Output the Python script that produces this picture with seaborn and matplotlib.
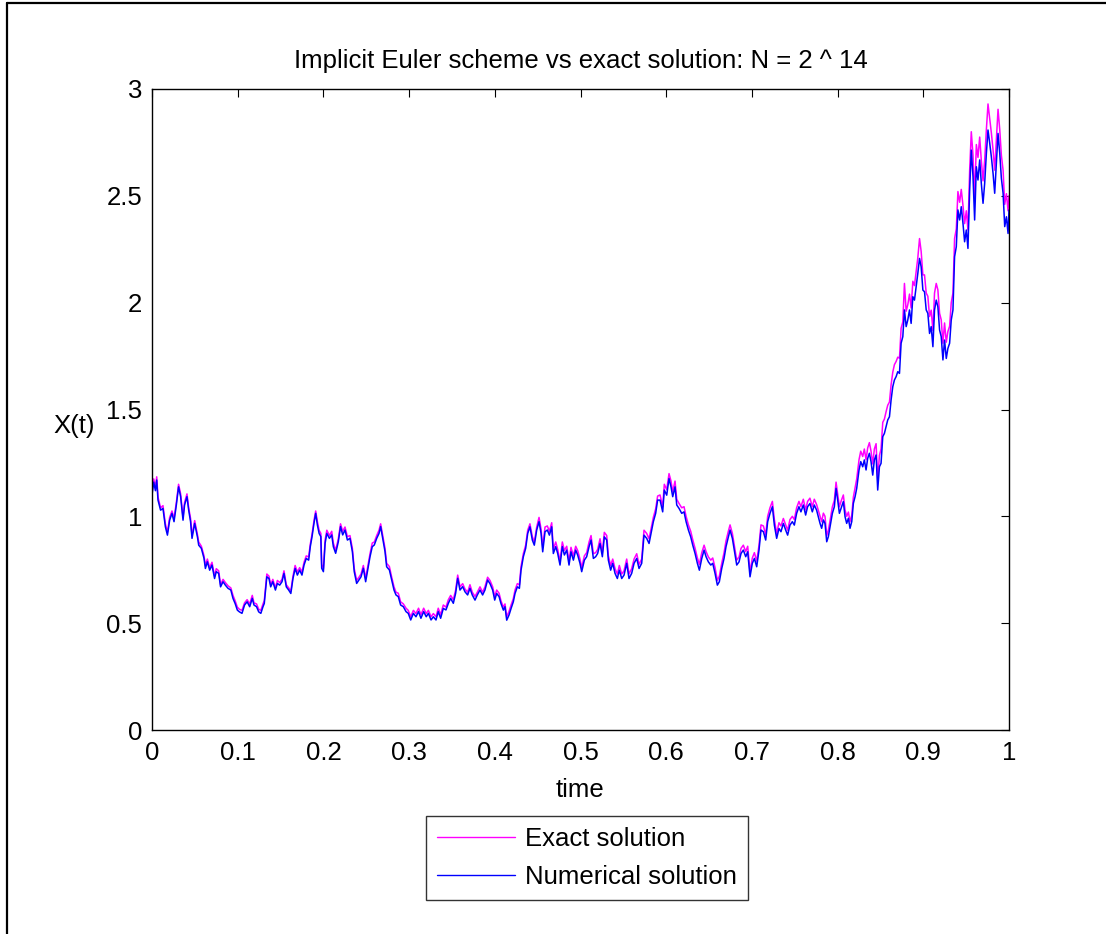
import numpy as np
import pandas as pd
import matplotlib
matplotlib.use("Agg")
import matplotlib.pyplot as plt
from matplotlib.lines import Line2D
from matplotlib.ticker import FuncFormatter
import seaborn as sns

# Sample times of the path
t = [
    0.000, 0.002, 0.004, 0.0055, 0.0070, 0.0100, 0.0128, 0.0156, 0.0180, 0.0206,
    0.0233, 0.0257, 0.0284, 0.0310, 0.0334, 0.0362, 0.0380, 0.0408, 0.0428, 0.0450,
    0.0467, 0.0498, 0.0530, 0.0545, 0.0576, 0.0607, 0.0623, 0.0646, 0.0673, 0.0700,
    0.0730, 0.0750, 0.0778, 0.0800, 0.0829, 0.0856, 0.0887, 0.0920, 0.0945, 0.0970,
    0.0996, 0.1020, 0.1050, 0.1080, 0.1110, 0.1140, 0.1170, 0.1190, 0.1220, 0.1245,
    0.1270, 0.1295, 0.1310, 0.1340, 0.1365, 0.1385, 0.1410, 0.1440, 0.1463, 0.1490,
    0.1517, 0.1540, 0.1567, 0.1595, 0.1620, 0.1645, 0.1670, 0.1696, 0.1723, 0.1750,
    0.1774, 0.1800, 0.1828, 0.1847, 0.1867, 0.1890, 0.1910, 0.1930, 0.1950,
    0.1970, 0.1980, 0.2000, 0.2020, 0.2040, 0.2070, 0.2097, 0.2116, 0.2143, 0.2174,
    0.2200, 0.2225, 0.2252, 0.2280, 0.2310, 0.2338, 0.2360, 0.2388, 0.2415, 0.2439,
    0.2466, 0.2493, 0.2517, 0.2544, 0.2570, 0.2594, 0.2622, 0.2649, 0.2668, 0.2692,
    0.2719, 0.2738, 0.2770, 0.2797, 0.2824, 0.2847, 0.2874, 0.2901, 0.2933, 0.2964,
    0.2990, 0.3019, 0.3050, 0.3080, 0.3110, 0.3138, 0.3170, 0.3200, 0.3225, 0.3256,
    0.3283, 0.3314, 0.3340, 0.3368, 0.3399, 0.3430, 0.3458, 0.3485, 0.3516, 0.3543,
    0.3567, 0.3594, 0.3625, 0.3652, 0.3683, 0.3710, 0.3737, 0.3769, 0.3796, 0.3827,
    0.3858, 0.3885, 0.3916, 0.3944,
    0.3975, 0.3999, 0.4022, 0.4050, 0.4072, 0.4100, 0.4119, 0.4139, 0.4166, 0.4190,
    0.4216, 0.4236, 0.4263, 0.4287, 0.4306, 0.4333, 0.4360, 0.4384, 0.4410, 0.4438,
    0.4461, 0.4489, 0.4516, 0.4540, 0.4559, 0.4586, 0.4613, 0.4637, 0.4664, 0.4683,
    0.4711, 0.4734, 0.4761, 0.4788, 0.4812, 0.4839, 0.4866, 0.4889, 0.4917, 0.4944,
    0.4967, 0.4994, 0.5014, 0.5045, 0.5072, 0.5100, 0.5123, 0.5150, 0.5177, 0.5200,
    0.5228, 0.5255, 0.5278, 0.5306, 0.5325, 0.5352, 0.5376, 0.5403, 0.5430, 0.5453,
    0.5481, 0.5508, 0.5539, 0.5566, 0.5597, 0.5625, 0.5656, 0.5683, 0.5714, 0.5741,
    0.5772, 0.5800, 0.5823, 0.5850, 0.5877, 0.5900,
    0.5928, 0.5959, 0.5978, 0.6006, 0.6033, 0.6056, 0.6076, 0.6103, 0.6123, 0.6150,
    0.6181, 0.6208, 0.6232, 0.6259, 0.6286, 0.6310, 0.6337, 0.6364, 0.6387, 0.6415,
    0.6442, 0.6465, 0.6492, 0.6520, 0.6543, 0.6570, 0.6597, 0.6620, 0.6648, 0.6675,
    0.6698, 0.6725, 0.6745, 0.6772, 0.6795, 0.6823, 0.6850, 0.6873, 0.6900, 0.6928,
    0.6951, 0.6978, 0.7005, 0.7029, 0.7056, 0.7083, 0.7106, 0.7134, 0.7161, 0.7184,
    0.7211, 0.7239, 0.7262, 0.7289, 0.7316, 0.7339, 0.7367, 0.7394, 0.7417, 0.7444,
    0.7472, 0.7495, 0.7522, 0.7549, 0.7572, 0.7600, 0.7627, 0.7650, 0.7677, 0.7705,
    0.7728, 0.7755,
    0.7795, 0.7814, 0.7834, 0.7853, 0.7873, 0.7892, 0.7912, 0.7939, 0.7962, 0.7982,
    0.8001, 0.8021, 0.8040, 0.8067, 0.8087, 0.8106, 0.8126, 0.8145, 0.8165, 0.8184,
    0.8204, 0.8223, 0.8250, 0.8270, 0.8293, 0.8312, 0.8332, 0.8351, 0.8371, 0.8390,
    0.8410, 0.8429, 0.8449, 0.8468, 0.8488, 0.8507, 0.8527, 0.8546, 0.8566, 0.8585,
    0.8605, 0.8624, 0.8644, 0.8663, 0.8683, 0.8702, 0.8722, 0.8741, 0.8761, 0.8780,
    0.8800, 0.8819, 0.8839, 0.8858, 0.8878, 0.8897, 0.8917, 0.8936, 0.8956, 0.8975,
    0.8995, 0.9014, 0.9034, 0.9053, 0.9073, 0.9092, 0.9112, 0.9131, 0.9151, 0.9170,
    0.9190, 0.9209, 0.9229, 0.9248, 0.9268, 0.9287, 0.9307, 0.9326, 0.9346, 0.9365,
    0.9385, 0.9404, 0.9424, 0.9443, 0.9463, 0.9482, 0.9502, 0.9521, 0.9541, 0.9560,
    0.9580, 0.9599, 0.9619, 0.9638, 0.9658, 0.9677, 0.9697, 0.9716, 0.9736, 0.9755,
    0.9775, 0.9794, 0.9814, 0.9833, 0.9853, 0.9872, 0.9892, 0.9911, 0.9931, 0.9950,
    0.9970, 0.9989, 1.0000,
]

# Exact solution X(t)
exact = [
    1.11, 1.175, 1.135, 1.185, 1.09, 1.04, 1.05, 0.965, 0.925, 0.995,
    1.025, 0.99, 1.065, 1.15, 1.105, 0.995, 1.065, 1.105, 1.04, 0.99,
    0.91, 0.98, 0.915, 0.88, 0.86, 0.815, 0.77, 0.80, 0.76, 0.785,
    0.72, 0.755, 0.745, 0.68, 0.705, 0.69, 0.675, 0.665, 0.63, 0.605,
    0.575, 0.565, 0.56, 0.595, 0.61, 0.59, 0.63, 0.595, 0.59, 0.565,
    0.56, 0.59, 0.605, 0.73, 0.72, 0.68, 0.705, 0.665, 0.70, 0.69,
    0.705, 0.745, 0.68, 0.665, 0.65, 0.72, 0.77, 0.74, 0.76, 0.74,
    0.785, 0.815, 0.81, 0.87, 0.915, 0.98, 1.025, 0.975, 0.935,
    0.92, 0.775, 0.755, 0.89, 0.935, 0.91, 0.93, 0.875, 0.84, 0.895,
    0.965, 0.93, 0.95, 0.905, 0.91, 0.85, 0.755, 0.70, 0.715, 0.73,
    0.77, 0.71, 0.765, 0.825, 0.875, 0.88, 0.91, 0.935, 0.965, 0.91,
    0.85, 0.78, 0.765, 0.715, 0.67, 0.645, 0.64, 0.60, 0.59, 0.57,
    0.56, 0.53, 0.56, 0.545, 0.57, 0.54, 0.57, 0.545, 0.56, 0.53,
    0.545, 0.53, 0.57, 0.54, 0.585, 0.575, 0.61, 0.63, 0.61, 0.655,
    0.725, 0.67, 0.685, 0.66, 0.645, 0.68, 0.645, 0.625, 0.645, 0.67,
    0.645, 0.67, 0.715, 0.70,
    0.67, 0.625, 0.655, 0.64, 0.605, 0.575, 0.59, 0.53, 0.555, 0.585,
    0.615, 0.655, 0.685, 0.68, 0.765, 0.825, 0.865, 0.935, 0.965, 0.905,
    0.88, 0.95, 0.995, 0.94, 0.855, 0.95, 0.955, 0.93, 0.97, 0.845,
    0.88, 0.845, 0.79, 0.88, 0.84, 0.86, 0.79, 0.855, 0.815, 0.86,
    0.84, 0.80, 0.76, 0.815, 0.83, 0.88, 0.91, 0.825, 0.83, 0.845,
    0.895, 0.83, 0.925, 0.91, 0.815, 0.77, 0.80, 0.755, 0.73, 0.77,
    0.73, 0.745, 0.80, 0.73, 0.755, 0.80, 0.825, 0.775, 0.80, 0.935,
    0.92, 0.895, 0.94, 0.995, 1.035, 1.095,
    1.10, 1.045, 1.15, 1.125, 1.20, 1.165, 1.115, 1.165, 1.08, 1.06,
    1.04, 1.045, 1.00, 0.96, 0.93, 0.89, 0.85, 0.805, 0.775, 0.83,
    0.865, 0.835, 0.81, 0.795, 0.805, 0.76, 0.70, 0.72, 0.78, 0.83,
    0.885, 0.93, 0.96, 0.92, 0.865, 0.795, 0.81, 0.85, 0.865, 0.835,
    0.86, 0.74, 0.805, 0.83, 0.79, 0.865, 0.96, 0.955, 0.915, 1.00,
    1.04, 1.07, 0.985, 0.92, 0.97, 0.955, 0.99, 0.96, 0.935, 0.985,
    1.00, 0.985, 1.04, 1.07, 1.045, 1.08, 1.03, 1.07, 1.085, 1.045,
    1.08, 1.055,
    1.00, 0.975, 1.015, 1.00, 0.91, 0.935, 0.98, 1.045, 1.075, 1.16,
    1.105, 1.045, 1.07, 1.10, 1.03, 1.00, 1.02, 0.975, 1.005, 1.09,
    1.135, 1.175, 1.265, 1.305, 1.28, 1.315, 1.265, 1.32, 1.345, 1.305,
    1.245, 1.315, 1.34, 1.17, 1.285, 1.315, 1.44, 1.455, 1.49, 1.52,
    1.535, 1.615, 1.675, 1.71, 1.725, 1.745, 1.74, 1.88, 1.91, 2.09,
    1.96, 1.99, 2.04, 1.975, 2.10, 2.08, 2.145, 2.21, 2.30, 2.24,
    2.13, 2.13, 2.045, 2.03, 1.935, 1.965, 1.87, 2.045, 2.09, 2.06,
    1.95, 1.92, 1.81, 1.905, 1.815, 1.865, 1.89, 2.00, 2.045, 2.30,
    2.345, 2.52, 2.47, 2.53, 2.455, 2.37, 2.43, 2.34, 2.62, 2.80,
    2.69, 2.49, 2.74, 2.68, 2.775, 2.665, 2.57, 2.665, 2.81, 2.93,
    2.86, 2.795, 2.715, 2.62, 2.765, 2.905, 2.81, 2.69, 2.62, 2.46,
    2.51, 2.43, 2.50,
]

# Implicit Euler approximation
numerical = [
    1.10, 1.16, 1.12, 1.17, 1.076, 1.029, 1.037, 0.951, 0.912, 0.982,
    1.014, 0.975, 1.053, 1.138, 1.092, 0.982, 1.053, 1.092, 1.029, 0.975,
    0.897, 0.967, 0.904, 0.865, 0.850, 0.803, 0.756, 0.787, 0.748, 0.772,
    0.709, 0.741, 0.733, 0.670, 0.694, 0.678, 0.663, 0.655, 0.616, 0.592,
    0.561, 0.553, 0.546, 0.585, 0.600, 0.577, 0.616, 0.585, 0.577, 0.553,
    0.546, 0.577, 0.592, 0.717, 0.709, 0.670, 0.694, 0.655, 0.686, 0.678,
    0.694, 0.733, 0.670, 0.655, 0.639, 0.709, 0.756, 0.725, 0.748, 0.725,
    0.772, 0.803, 0.795, 0.858, 0.904, 0.967, 1.014, 0.959, 0.920,
    0.905, 0.757, 0.741, 0.874, 0.920, 0.897, 0.913, 0.858, 0.827, 0.881,
    0.952, 0.913, 0.936, 0.889, 0.897, 0.835, 0.741, 0.686, 0.702, 0.717,
    0.757, 0.694, 0.749, 0.811, 0.858, 0.866, 0.897, 0.920, 0.952, 0.897,
    0.835, 0.764, 0.749, 0.702, 0.655, 0.632, 0.624, 0.585, 0.577, 0.554,
    0.546, 0.515, 0.546, 0.530, 0.554, 0.523, 0.554, 0.530, 0.546, 0.515,
    0.530, 0.515, 0.554, 0.523, 0.569, 0.562, 0.593, 0.616, 0.593, 0.640,
    0.710, 0.655, 0.671, 0.647, 0.632, 0.663, 0.632, 0.608, 0.632, 0.655,
    0.632, 0.655, 0.702, 0.685,
    0.655, 0.608, 0.639, 0.624, 0.592, 0.561, 0.577, 0.514, 0.538, 0.569,
    0.600, 0.639, 0.670, 0.663, 0.748, 0.811, 0.850, 0.920, 0.951, 0.889,
    0.865, 0.936, 0.975, 0.920, 0.834, 0.928, 0.936, 0.912, 0.951, 0.826,
    0.858, 0.826, 0.772, 0.858, 0.819, 0.842, 0.772, 0.834, 0.795, 0.842,
    0.819, 0.780, 0.741, 0.795, 0.811, 0.858, 0.889, 0.803, 0.811, 0.826,
    0.873, 0.811, 0.904, 0.889, 0.795, 0.748, 0.780, 0.733, 0.709, 0.748,
    0.709, 0.725, 0.780, 0.709, 0.733, 0.780, 0.803, 0.756, 0.780, 0.912,
    0.897, 0.873, 0.920, 0.975, 1.014, 1.076,
    1.076, 1.021, 1.123, 1.099, 1.177, 1.138, 1.092, 1.138, 1.053, 1.037,
    1.014, 1.021, 0.975, 0.936, 0.904, 0.865, 0.826, 0.780, 0.748, 0.803,
    0.842, 0.811, 0.787, 0.772, 0.780, 0.733, 0.678, 0.694, 0.756, 0.803,
    0.858, 0.904, 0.936, 0.897, 0.842, 0.772, 0.787, 0.826, 0.842, 0.811,
    0.834, 0.717, 0.780, 0.803, 0.764, 0.842, 0.936, 0.928, 0.889, 0.975,
    1.014, 1.045, 0.959, 0.897, 0.943, 0.928, 0.967, 0.936, 0.912, 0.959,
    0.975, 0.959, 1.014, 1.045, 1.021, 1.053, 1.006, 1.045, 1.060, 1.021,
    1.053, 1.029,
    0.967, 0.944, 0.983, 0.967, 0.881, 0.905, 0.952, 1.014, 1.045, 1.131,
    1.076, 1.014, 1.037, 1.069, 0.998, 0.967, 0.991, 0.944, 0.975, 1.061,
    1.092, 1.131, 1.217, 1.256, 1.232, 1.264, 1.217, 1.271, 1.295, 1.256,
    1.193, 1.264, 1.287, 1.123, 1.232, 1.248, 1.373, 1.388, 1.420, 1.451,
    1.466, 1.544, 1.607, 1.638, 1.654, 1.677, 1.669, 1.810, 1.841, 1.966,
    1.888, 1.919, 1.966, 1.903, 2.028, 2.012, 2.075, 2.137, 2.207, 2.168,
    2.059, 2.051, 1.966, 1.950, 1.856, 1.888, 1.794, 1.966, 2.012, 1.981,
    1.872, 1.841, 1.732, 1.825, 1.739, 1.786, 1.810, 1.919, 1.966, 2.215,
    2.262, 2.434, 2.387, 2.449, 2.371, 2.285, 2.340, 2.254, 2.527, 2.714,
    2.590, 2.387, 2.636, 2.574, 2.668, 2.558, 2.465, 2.558, 2.699, 2.808,
    2.746, 2.683, 2.605, 2.512, 2.652, 2.792, 2.699, 2.582, 2.512, 2.356,
    2.402, 2.324, 2.434,
]

series_names = ["Exact solution", "Numerical solution"]
series_colors = {"Exact solution": "#ff00ff", "Numerical solution": "#0000ff"}
x_ticks = [0, 0.1, 0.2, 0.3, 0.4, 0.5, 0.6, 0.7, 0.8, 0.9, 1]
y_ticks = [0, 0.5, 1, 1.5, 2, 2.5, 3]

df = pd.concat([
    pd.DataFrame({"time": t, "X": exact, "series": series_names[0]}),
    pd.DataFrame({"time": t, "X": numerical, "series": series_names[1]}),
], ignore_index=True)

sns.set_style("white")
plt.rcParams["font.family"] = ["Liberation Sans", "DejaVu Sans"]
FS = 18.5
plt.rcParams["font.size"] = FS
plt.rcParams["text.color"] = "black"
plt.rcParams["axes.labelcolor"] = "black"
plt.rcParams["xtick.color"] = "black"
plt.rcParams["ytick.color"] = "black"

W, H = 1106, 934
fig = plt.figure(figsize=(W / 100, H / 100), dpi=100)
fig.patch.set_facecolor("white")
ax = fig.add_axes([152 / W, 1 - 730 / H, (1009 - 152) / W, (730 - 89) / H])

sns.lineplot(data=df, x="time", y="X", hue="series", hue_order=series_names,
             palette=series_colors, estimator=None, sort=False, linewidth=1.1,
             legend=False, ax=ax)

ax.set_xlim(0, 1)
ax.set_ylim(0, 3)
ax.set_xticks(x_ticks)
ax.set_yticks(y_ticks)
fmt = FuncFormatter(lambda v, _: f"{v:g}")
ax.xaxis.set_major_formatter(fmt)
ax.yaxis.set_major_formatter(fmt)
ax.tick_params(direction="in", length=6, width=0.8, colors="black",
               top=True, right=True, labelsize=FS)
ax.tick_params(axis="x", pad=8)
ax.tick_params(axis="y", pad=7)
for s in ax.spines.values():
    s.set_visible(True)
    s.set_color("black")
    s.set_linewidth(1.0)

ax.set_title("Implicit Euler scheme vs exact solution: N = 2 ^ 14",
             fontsize=FS, pad=15, color="black")
ax.set_xlabel("time", fontsize=FS, labelpad=9)
ax.set_ylabel("X(t)", fontsize=FS, rotation=0, va="center", ha="center")
ax.yaxis.set_label_coords(-0.091, 0.474)

handles = [Line2D([], [], color=series_colors[n], linewidth=1.0) for n in series_names]
leg = fig.legend(handles, series_names, loc="center",
                 bbox_to_anchor=(587 / W, 1 - 858 / H), fontsize=FS,
                 frameon=True, fancybox=False, edgecolor="black",
                 handlelength=3.05, handletextpad=0.4, borderpad=0.42,
                 labelspacing=0.55, borderaxespad=0)
leg.get_frame().set_linewidth(1.0)
for txt in leg.get_texts():
    txt.set_color("black")

# Window frame along the left and top edges
fig.add_artist(Line2D([7 / W, 7 / W], [0, 1 - 3 / H], color="black",
                      linewidth=1.6, transform=fig.transFigure))
fig.add_artist(Line2D([7 / W, 1], [1 - 3 / H, 1 - 3 / H], color="black",
                      linewidth=1.6, transform=fig.transFigure))

fig.savefig("out.png", dpi=100, facecolor="white")
